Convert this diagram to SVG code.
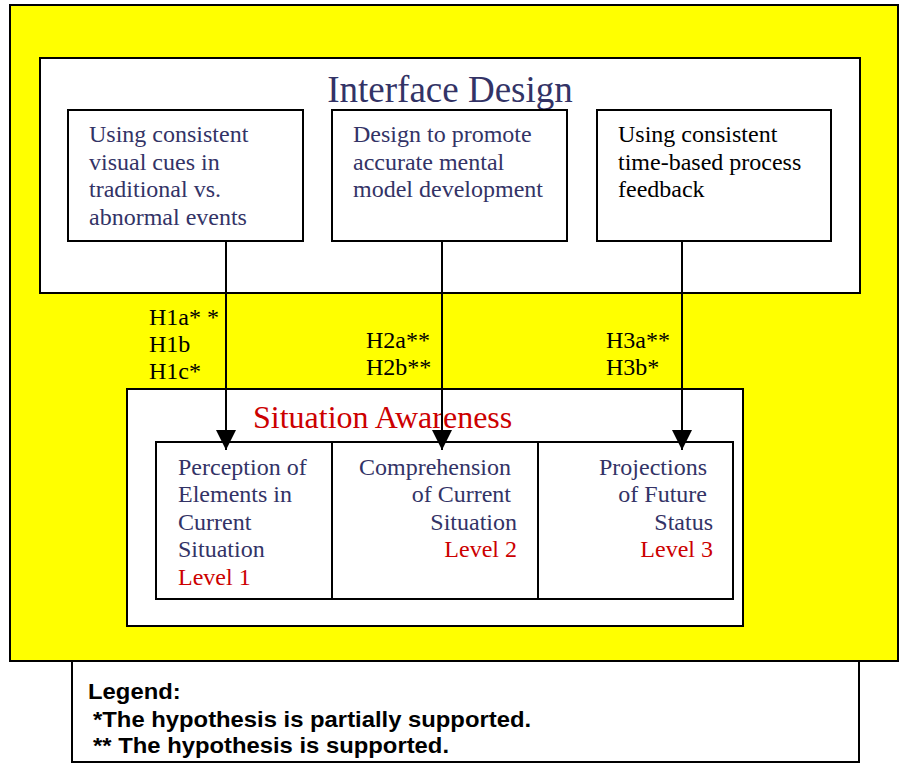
<svg xmlns="http://www.w3.org/2000/svg" width="900" height="767" viewBox="0 0 900 767">
  <defs>
    <marker id="arrow" markerWidth="20" markerHeight="20" viewBox="0 0 20 20" refX="20" refY="10" orient="auto" markerUnits="userSpaceOnUse">
      <path d="M0,0 L20,10 L0,20 Z" fill="#000"/>
    </marker>
    <style>
      .frame { fill: #ffffff; stroke: #000; stroke-width: 2; }
      .serif { font-family: "Liberation Serif", "Times New Roman", serif; font-size: 24px; }
      .navy { fill: #333366; }
      .black { fill: #000; }
      .red { fill: #cc0000; }
      .legend { font-family: "Liberation Sans", Arial, sans-serif; font-weight: bold; font-size: 22px; fill: #000; }
      .conn { stroke: #000; stroke-width: 2; fill: none; }
    </style>
  </defs>

  <!-- legend panel (sits under the yellow frame) -->
  <g id="legend">
    <rect x="72" y="640" width="787" height="122" class="frame"/>
    <g transform="scale(1.083,1)">
      <text class="legend" x="81.3" y="699">Legend:</text>
      <text class="legend" x="85.9" y="727">*The hypothesis is partially supported.</text>
      <text class="legend" x="85.9" y="753">** The hypothesis is supported.</text>
    </g>
  </g>

  <!-- yellow background frame -->
  <rect id="background" x="10" y="5" width="888" height="656" fill="#ffff00" stroke="#000" stroke-width="2"/>

  <!-- Interface Design group -->
  <g id="interface-design">
    <rect x="40" y="58" width="820" height="235" class="frame"/>
    <text x="450" y="102" text-anchor="middle" font-family="Liberation Serif, Times New Roman, serif" font-size="37" class="navy">Interface Design</text>
  </g>

  <g id="cue-box">
    <rect x="68" y="110" width="235" height="131" class="frame"/>
    <text class="serif navy">
      <tspan x="89" y="142">Using consistent</tspan>
      <tspan x="89" y="170">visual cues in</tspan>
      <tspan x="89" y="197">traditional vs.</tspan>
      <tspan x="89" y="225">abnormal events</tspan>
    </text>
  </g>

  <g id="mental-model-box">
    <rect x="332" y="110" width="235" height="131" class="frame"/>
    <text class="serif navy">
      <tspan x="353" y="142">Design to promote</tspan>
      <tspan x="353" y="170">accurate mental</tspan>
      <tspan x="353" y="197">model development</tspan>
    </text>
  </g>

  <g id="feedback-box">
    <rect x="597" y="110" width="234" height="131" class="frame"/>
    <text class="serif black">
      <tspan x="618" y="142">Using consistent</tspan>
      <tspan x="618" y="170">time-based process</tspan>
      <tspan x="618" y="197">feedback</tspan>
    </text>
  </g>

  <!-- Situation Awareness group -->
  <g id="situation-awareness">
    <rect x="127" y="389" width="616" height="237" class="frame"/>
    <text x="253" y="428" font-family="Liberation Serif, Times New Roman, serif" font-size="32" class="red">Situation Awareness</text>
  </g>

  <g id="sa-levels">
    <rect x="156" y="442" width="577" height="157" class="frame"/>
    <line x1="332" y1="442" x2="332" y2="599" stroke="#000" stroke-width="2"/>
    <line x1="538" y1="442" x2="538" y2="599" stroke="#000" stroke-width="2"/>
  </g>

  <g id="level-1">
    <text class="serif navy">
      <tspan x="178" y="475">Perception of</tspan>
      <tspan x="178" y="502">Elements in</tspan>
      <tspan x="178" y="530">Current</tspan>
      <tspan x="178" y="557">Situation</tspan>
    </text>
    <text class="serif red" x="178" y="585">Level 1</text>
  </g>

  <g id="level-2">
    <text class="serif navy" text-anchor="end">
      <tspan x="517" y="475">Comprehension</tspan>
      <tspan x="517" y="502">of Current</tspan>
      <tspan x="517" y="530">Situation</tspan>
    </text>
    <text class="serif red" text-anchor="end" x="517" y="557">Level 2</text>
  </g>

  <g id="level-3">
    <text class="serif navy" text-anchor="end">
      <tspan x="713" y="475">Projections</tspan>
      <tspan x="713" y="502">of Future</tspan>
      <tspan x="713" y="530">Status</tspan>
    </text>
    <text class="serif red" text-anchor="end" x="713" y="557">Level 3</text>
  </g>

  <!-- hypothesis connectors -->
  <g id="connectors">
    <line class="conn" x1="226" y1="241" x2="226" y2="450" marker-end="url(#arrow)"/>
    <line class="conn" x1="442" y1="241" x2="442" y2="450" marker-end="url(#arrow)"/>
    <line class="conn" x1="682" y1="241" x2="682" y2="450" marker-end="url(#arrow)"/>
  </g>

  <g id="hypothesis-labels">
    <text class="serif black">
      <tspan x="149" y="325">H1a* *</tspan>
      <tspan x="149" y="352">H1b</tspan>
      <tspan x="149" y="379">H1c*</tspan>
    </text>
    <text class="serif black">
      <tspan x="366" y="348">H2a**</tspan>
      <tspan x="366" y="375">H2b**</tspan>
    </text>
    <text class="serif black">
      <tspan x="606" y="348">H3a**</tspan>
      <tspan x="606" y="375">H3b*</tspan>
    </text>
  </g>
</svg>
